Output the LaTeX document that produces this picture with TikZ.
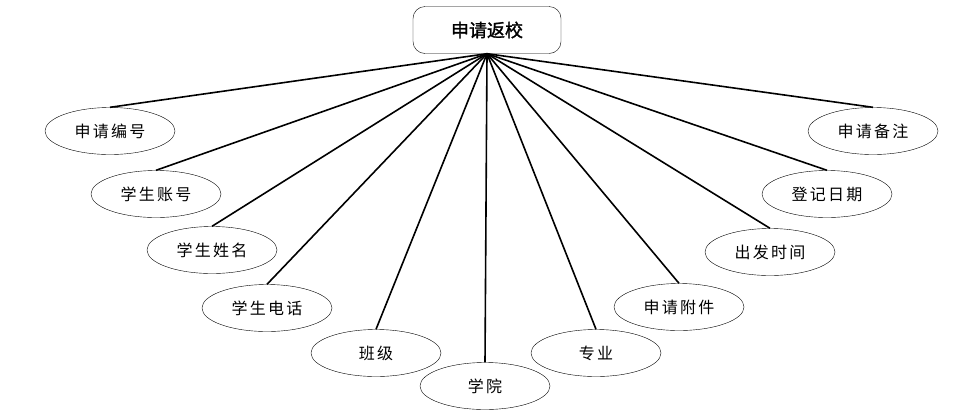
\documentclass[tikz,border=0pt]{standalone}
\usepackage{fontspec}
\newfontfamily\cjk[LetterSpace=14]{Noto Sans CJK SC}
\newfontfamily\cjkbold[FakeBold=1.5]{Noto Sans CJK SC}
\usetikzlibrary{shapes.geometric}

\begin{document}
\begin{tikzpicture}[
  x=1pt, y=-1pt,
  root/.style={draw, rounded corners=12pt, minimum width=148pt,
               minimum height=47pt, inner sep=0pt,
               font=\cjkbold\fontsize{18}{20}\selectfont},
  attr/.style={draw, ellipse, minimum width=130pt, minimum height=47pt,
               inner sep=0pt, font=\cjk\fontsize{16}{18}\selectfont},
  every edge/.style={draw, line width=1.6pt}
]
  \useasboundingbox (0,0) rectangle (976,416);

  \node[root] (apply) at (487,30) {申请返校};

  \node[attr] (appno)   at (110,131) {申请编号};
  \node[attr] (account) at (156,194) {学生账号};
  \node[attr] (name)    at (212,250) {学生姓名};
  \node[attr] (phone)   at (267,308) {学生电话};
  \node[attr] (cls)     at (376,353) {班级};
  \node[attr] (college) at (485,386) {学院};
  \node[attr] (major)   at (596,353) {专业};
  \node[attr] (attach)  at (679,307) {申请附件};
  \node[attr] (depart)  at (770,252) {出发时间};
  \node[attr] (regdate) at (827,194) {登记日期};
  \node[attr] (remark)  at (873,131) {申请备注};

  \path (apply.south) edge (appno.north);
  \path (apply.south) edge (account.north);
  \path (apply.south) edge (name.north);
  \path (apply.south) edge (phone.north);
  \path (apply.south) edge (cls.north);
  \path (apply.south) edge (college.north);
  \path (apply.south) edge (major.north);
  \path (apply.south) edge (attach.north);
  \path (apply.south) edge (depart.north);
  \path (apply.south) edge (regdate.north);
  \path (apply.south) edge (remark.north);
\end{tikzpicture}
\end{document}
